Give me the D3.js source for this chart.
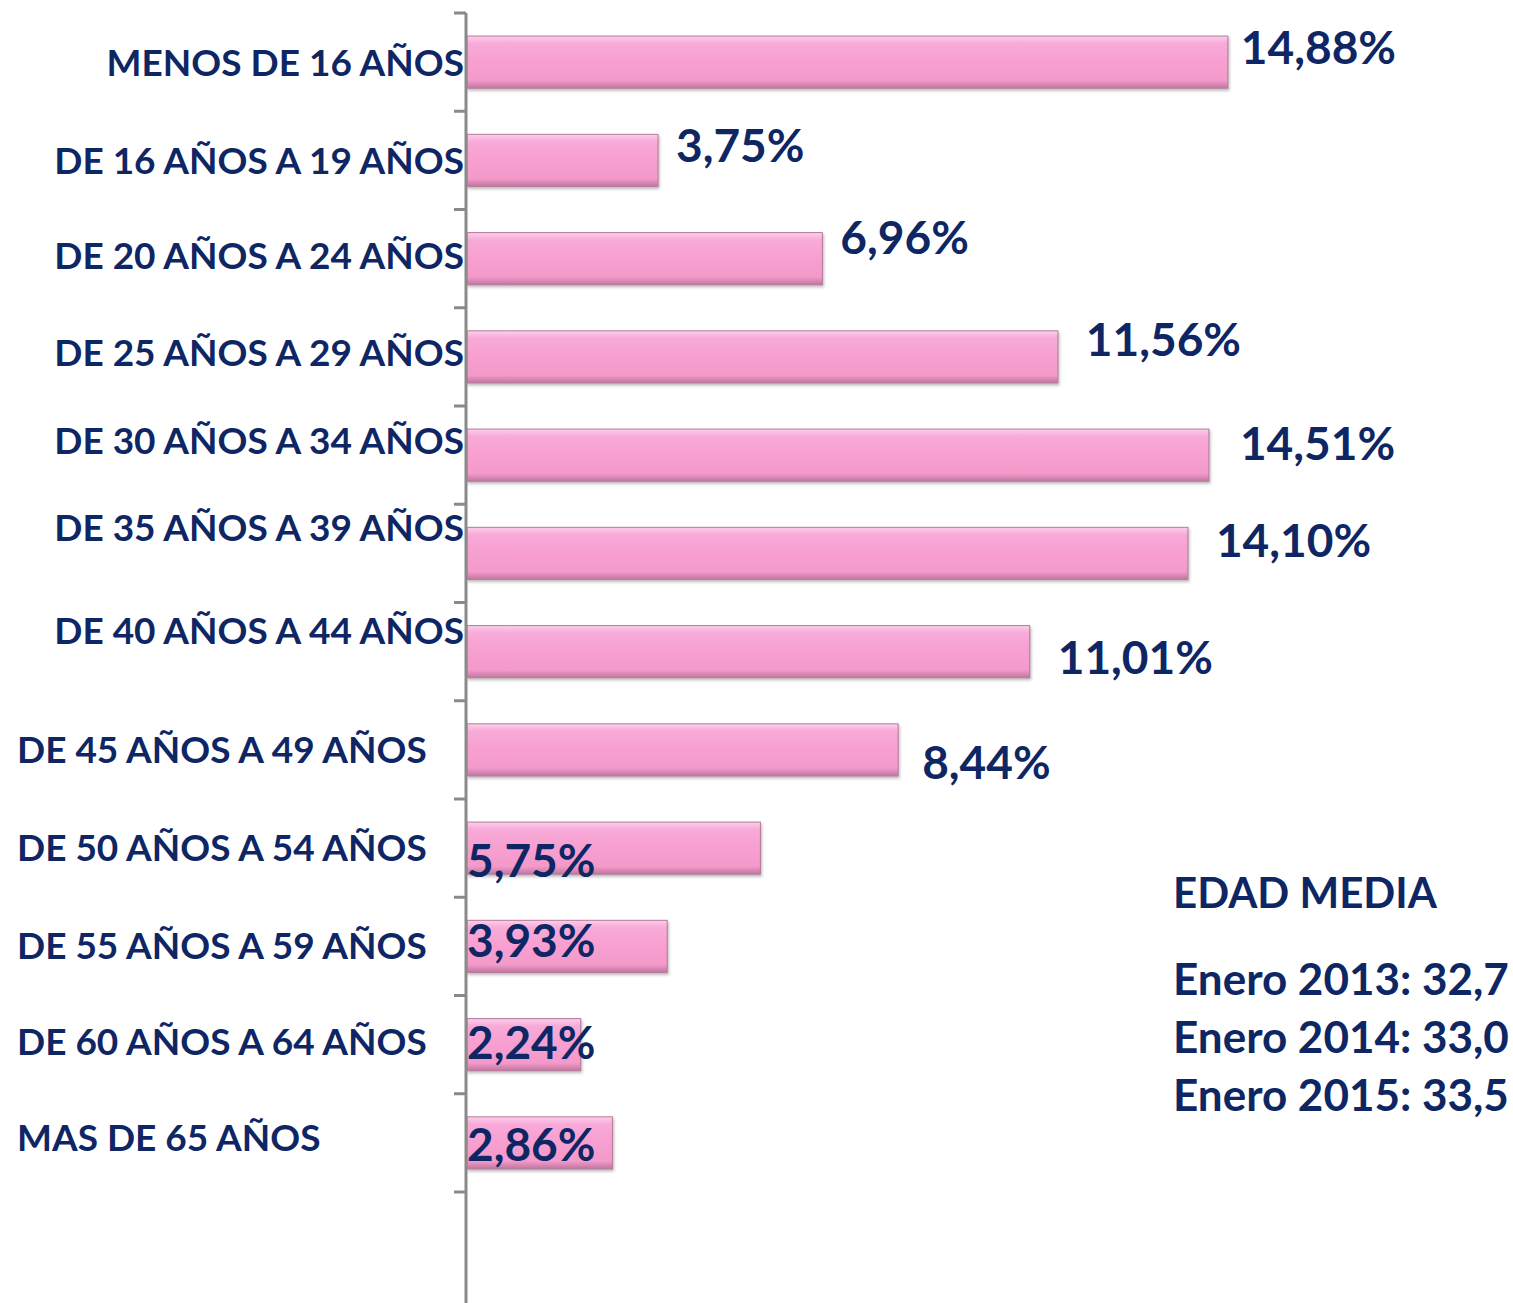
<!DOCTYPE html>
<html>
<head>
<meta charset="utf-8">
<script src="https://cdn.jsdelivr.net/npm/d3@7"></script>
<style>
  body { margin: 0; background: #fff; }
  text { font-family: Lato, "Open Sans", sans-serif; font-weight: bold; fill: #0e2764; }
</style>
</head>
<body>
<div id="chart"></div>
<script>
// Data
const categories = ["MENOS DE 16 AÑOS", "DE 16 AÑOS A 19 AÑOS", "DE 20 AÑOS A 24 AÑOS",
  "DE 25 AÑOS A 29 AÑOS", "DE 30 AÑOS A 34 AÑOS", "DE 35 AÑOS A 39 AÑOS",
  "DE 40 AÑOS A 44 AÑOS", "DE 45 AÑOS A 49 AÑOS", "DE 50 AÑOS A 54 AÑOS",
  "DE 55 AÑOS A 59 AÑOS", "DE 60 AÑOS A 64 AÑOS", "MAS DE 65 AÑOS"];
const values = [14.88, 3.75, 6.96, 11.56, 14.51, 14.10, 11.01, 8.44, 5.75, 3.93, 2.24, 2.86];
const legendTitle = "EDAD MEDIA";
const legendLines = ["Enero 2013: 32,7", "Enero 2014: 33,0", "Enero 2015: 33,5"];

// Layout (hand placed labels, like in the original slide)
const width = 1513, height = 1303;
const axisX = 466;
// category label: right aligned next to axis or left aligned at page edge, vertical nudge
const catLeft = [false, false, false, false, false, false, false, true, true, true, true, true];
const catDy = [1, 0, -3, -4, -14, -26, -21, 0, 0, -1, -3, -5];
// value label: at bar end (dx) or at the bar base, vertical nudge
const valAtBase = [false, false, false, false, false, false, false, false, true, true, true, true];
const valDx = [13, 18, 18, 28, 31, 28, 28, 24, 0, 0, 0, 0];
const valDy = [-15, -15, -21, -17, -12, -13, 6, 13, 12, -6, -2, 2];

const svg = d3.select("#chart").append("svg")
  .attr("width", width).attr("height", height);

const defs = svg.append("defs");
const grad = defs.append("linearGradient").attr("id", "pink")
  .attr("x1", 0).attr("y1", 0).attr("x2", 0).attr("y2", 1);
grad.append("stop").attr("offset", "0%").attr("stop-color", "#fbd0ea");
grad.append("stop").attr("offset", "14%").attr("stop-color", "#f8aad8");
grad.append("stop").attr("offset", "50%").attr("stop-color", "#f79fd0");
grad.append("stop").attr("offset", "85%").attr("stop-color", "#f39acb");
grad.append("stop").attr("offset", "100%").attr("stop-color", "#c0769e");

const shadow = defs.append("filter").attr("id", "shadow")
  .attr("x", "-5%").attr("y", "-20%").attr("width", "115%").attr("height", "160%");
shadow.append("feDropShadow").attr("dx", 1).attr("dy", 2).attr("stdDeviation", 1.5)
  .attr("flood-color", "#888").attr("flood-opacity", 0.6);

const x = d3.scaleLinear().domain([0, 20]).range([axisX, axisX + 1024]);
const y = d3.scaleBand().domain(categories).range([13, 1192]).paddingInner(0.47).paddingOuter(0.235);

// bars
svg.append("g").selectAll("rect")
  .data(values)
  .join("rect")
  .attr("x", x(0) + 1)
  .attr("y", (d, i) => y(categories[i]))
  .attr("width", d => x(d) - x(0) - 1)
  .attr("height", y.bandwidth())
  .attr("fill", "url(#pink)")
  .attr("stroke", "#b97a9c")
  .attr("stroke-width", 1)
  .attr("filter", "url(#shadow)");

// axis with ticks to the left
const ticks = d3.range(categories.length + 1).map(i => 13 + i * y.step());
svg.append("line")
  .attr("x1", axisX).attr("x2", axisX)
  .attr("y1", 13).attr("y2", height)
  .attr("stroke", "#8a8a8a").attr("stroke-width", 3);
svg.append("g").selectAll("line")
  .data(ticks)
  .join("line")
  .attr("x1", axisX - 12).attr("x2", axisX)
  .attr("y1", d => d).attr("y2", d => d)
  .attr("stroke", "#8a8a8a").attr("stroke-width", 3);

// category labels
svg.append("g").selectAll("text")
  .data(categories)
  .join("text")
  .attr("x", (d, i) => catLeft[i] ? 17 : axisX - 2)
  .attr("y", (d, i) => y(d) + y.bandwidth() / 2 + catDy[i])
  .attr("dy", "0.36em")
  .attr("text-anchor", (d, i) => catLeft[i] ? "start" : "end")
  .style("font-size", "37px")
  .text(d => d);

// value labels
const fmt = v => d3.format(".2f")(v).replace(".", ",") + "%";
svg.append("g").selectAll("text")
  .data(values)
  .join("text")
  .attr("x", (d, i) => valAtBase[i] ? x(0) + 1 : x(d) + valDx[i])
  .attr("y", (d, i) => y(categories[i]) + y.bandwidth() / 2 + valDy[i])
  .attr("dy", "0.36em")
  .style("font-size", "46px")
  .text(d => fmt(d));

// mean age box
svg.append("text")
  .attr("x", 1173).attr("y", 908)
  .style("font-size", "42px")
  .text(legendTitle);
svg.append("g").selectAll("text")
  .data(legendLines)
  .join("text")
  .attr("x", 1173)
  .attr("y", (d, i) => 995 + i * 58)
  .style("font-size", "44px")
  .text(d => d);
</script>
</body>
</html>
